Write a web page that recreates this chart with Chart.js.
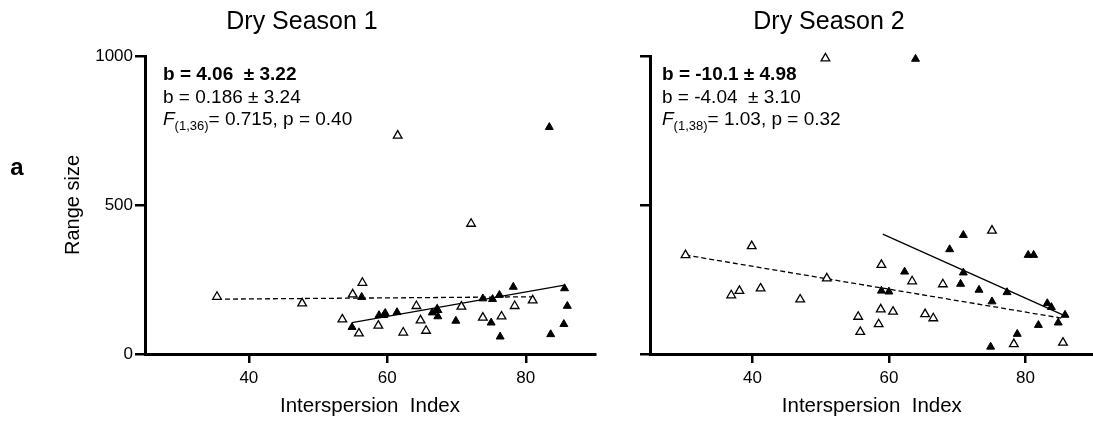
<!DOCTYPE html>
<html>
<head>
<meta charset="utf-8">
<script src="https://cdn.jsdelivr.net/npm/chart.js@4/dist/chart.umd.min.js"></script>
<style>
  html, body { margin: 0; padding: 0; background: #fff; overflow: hidden; }
  #wrap { position: relative; width: 1093px; height: 423px; overflow: hidden; }
  #left { position: absolute; left: 0; top: 0; }
  #right { position: absolute; left: 600px; top: 0; }
</style>
</head>
<body>
<div id="wrap">
  <canvas id="left" width="620" height="423"></canvas>
  <canvas id="right" width="500" height="423"></canvas>
</div>
<script>
// axis ticks
const xTicks = [40, 60, 80];
const yTicks = [0, 500, 1000];

// Dry Season 1
const s1OpenX = [35.4, 47.7, 53.5, 55.0, 56.4, 55.9, 58.7, 61.5, 62.3, 64.2, 64.8, 65.6, 67.2, 70.7, 72.1, 73.8, 76.5, 78.4, 81.0];
const s1OpenY = [192, 170, 116, 200, 239, 69, 95, 733, 72, 161, 113, 78, 148, 159, 437, 122, 126, 161, 180];
const s1FillX = [54.9, 56.3, 58.8, 59.5, 59.7, 61.4, 66.5, 67.2, 67.3, 69.9, 73.8, 75.0, 75.2, 76.2, 76.3, 78.2, 83.4, 83.6, 85.5, 85.6, 86.0];
const s1FillY = [90, 191, 130, 130, 137, 140, 139, 150, 126, 111, 186, 105, 184, 198, 58, 225, 761, 66, 100, 220, 161];
const s1SolidX = [54.9, 85.6];
const s1SolidY = [105, 231];
const s1DashX = [35.4, 81.0];
const s1DashY = [184, 192];

// Dry Season 2
const s2OpenX = [30.2, 39.9, 36.9, 38.1, 41.2, 47.0, 50.7, 50.9, 55.5, 55.8, 58.5, 58.8, 58.9, 60.6, 63.4, 65.3, 66.5, 67.9, 75.1, 78.3, 85.5];
const s2OpenY = [332, 362, 197, 212, 220, 183, 992, 254, 125, 74, 100, 150, 299, 142, 244, 134, 120, 234, 414, 33, 38];
const s2FillX = [63.9, 58.9, 60.0, 62.3, 68.9, 70.9, 70.9, 70.5, 73.2, 75.1, 74.9, 77.3, 78.8, 80.4, 81.2, 81.9, 83.2, 83.8, 84.8, 85.8];
const s2FillY = [990, 212, 209, 276, 351, 399, 273, 235, 215, 176, 24, 207, 67, 332, 332, 97, 170, 157, 105, 131];
const s2SolidX = [59.1, 85.8];
const s2SolidY = [402, 128];
const s2DashX = [30.2, 85.4];
const s2DashY = [332, 120];

const FONT = "'Liberation Sans', Arial, Helvetica, sans-serif";

function pts(xs, ys) {
  return xs.map((x, i) => ({x: x, y: ys[i]}));
}

// titles, panel letter and the stats text
const panelText = {
  id: 'panelText',
  afterDraw(chart, args, opts) {
    const ctx = chart.ctx;
    const a = chart.chartArea;
    ctx.save();
    ctx.fillStyle = '#000';
    ctx.textBaseline = 'middle';

    ctx.textAlign = 'center';
    ctx.font = '25px ' + FONT;
    ctx.fillText(opts.title, opts.titleX, 22);

    if (opts.letter) {
      ctx.font = 'bold 24px ' + FONT;
      ctx.fillText(opts.letter, 17, 168);
    }

    ctx.textAlign = 'left';
    let x = a.left + opts.textDx;
    ctx.font = 'bold 19px ' + FONT;
    ctx.fillText(opts.line1, x, 75);
    ctx.font = '19px ' + FONT;
    ctx.fillText(opts.line2, x, 98);

    ctx.font = 'italic 19px ' + FONT;
    ctx.fillText('F', x, 120);
    x += ctx.measureText('F').width;
    ctx.font = '13px ' + FONT;
    ctx.fillText(opts.sub, x, 126);
    x += ctx.measureText(opts.sub).width;
    ctx.font = '19px ' + FONT;
    ctx.fillText(opts.rest, x, 120);
    ctx.restore();
  }
};

function makeChart(id, d, yLabels, yWidth, padRight, text) {
  return new Chart(document.getElementById(id), {
    type: 'scatter',
    data: {
      datasets: [
        {
          data: pts(d.fillX, d.fillY),
          pointStyle: 'triangle',
          pointRadius: 4.6,
          backgroundColor: '#000',
          borderColor: '#000',
          borderWidth: 1,
          clip: false
        },
        {
          data: pts(d.openX, d.openY),
          pointStyle: 'triangle',
          pointRadius: 5,
          backgroundColor: '#fff',
          borderColor: '#000',
          borderWidth: 1.3,
          clip: false
        },
        {
          type: 'line',
          data: pts(d.solidX, d.solidY),
          borderColor: '#000',
          borderWidth: 1.3,
          pointRadius: 0,
          fill: false
        },
        {
          type: 'line',
          data: pts(d.dashX, d.dashY),
          borderColor: '#000',
          borderWidth: 1.3,
          borderDash: [5, 3],
          pointRadius: 0,
          fill: false
        }
      ]
    },
    options: {
      responsive: false,
      animation: false,
      devicePixelRatio: 1,
      layout: {padding: {top: 56, left: 0, right: padRight, bottom: 0}},
      plugins: {
        legend: {display: false},
        tooltip: {enabled: false},
        panelText: text
      },
      scales: {
        x: {
          type: 'linear',
          min: 25,
          max: 90,
          afterBuildTicks: s => { s.ticks = xTicks.map(v => ({value: v})); },
          afterFit: s => { s.height = 69; },
          grid: {drawOnChartArea: false, drawTicks: true, tickLength: 9, color: '#000', lineWidth: 2.5},
          border: {display: true, color: '#000', width: 3},
          ticks: {color: '#000', padding: 5, font: {family: FONT, size: 17}},
          title: {
            display: true,
            text: 'Interspersion  Index',
            color: '#000',
            font: {family: FONT, size: 20.5},
            padding: {top: 0, bottom: 4}
          }
        },
        y: {
          type: 'linear',
          min: 0,
          max: 1000,
          afterBuildTicks: s => { s.ticks = yTicks.map(v => ({value: v})); },
          afterFit: s => { s.width = yWidth; },
          grid: {drawOnChartArea: false, drawTicks: true, tickLength: 10, color: '#000', lineWidth: 2.5},
          border: {display: true, color: '#000', width: 3},
          ticks: {
            color: '#000',
            padding: 2,
            font: {family: FONT, size: 17},
            callback: v => yLabels ? String(v) : ''
          },
          title: {
            display: yLabels,
            text: 'Range size',
            color: '#000',
            font: {family: FONT, size: 20},
            padding: {top: 61, bottom: 0}
          }
        }
      }
    },
    plugins: [panelText]
  });
}

makeChart('left', {
  openX: s1OpenX, openY: s1OpenY, fillX: s1FillX, fillY: s1FillY,
  solidX: s1SolidX, solidY: s1SolidY, dashX: s1DashX, dashY: s1DashY
}, true, 145, 25, {
  title: 'Dry Season 1', titleX: 302, letter: 'a', textDx: 18,
  line1: 'b = 4.06  \u00b1 3.22', line2: 'b = 0.186 \u00b1 3.24',
  sub: '(1,36)', rest: '= 0.715, p = 0.40'
});

makeChart('right', {
  openX: s2OpenX, openY: s2OpenY, fillX: s2FillX, fillY: s2FillY,
  solidX: s2SolidX, solidY: s2SolidY, dashX: s2DashX, dashY: s2DashY
}, false, 50, 3, {
  title: 'Dry Season 2', titleX: 229, letter: null, textDx: 12,
  line1: 'b = -10.1 \u00b1 4.98', line2: 'b = -4.04  \u00b1 3.10',
  sub: '(1,38)', rest: '= 1.03, p = 0.32'
});
</script>
</body>
</html>
